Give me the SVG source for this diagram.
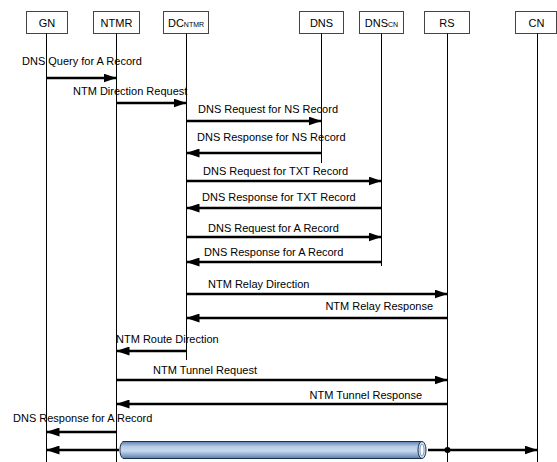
<svg xmlns="http://www.w3.org/2000/svg" width="557" height="462" viewBox="0 0 557 462">
  <style>
    text { font-family: "Liberation Sans", Arial, sans-serif; font-size: 11px; fill: #000; }
    .box { fill: #fff; stroke: #444; stroke-width: 1; }
    .life { stroke: #000; stroke-width: 1; fill: none; }
    .msg { stroke: #000; stroke-width: 2.5; fill: none; marker-end: url(#ah); }
    .lbl { text-anchor: middle; }
    .sub { font-size: 7px; }
  </style>
  <defs>
    <marker id="ah" markerUnits="userSpaceOnUse" markerWidth="13" markerHeight="9" refX="13" refY="4.5" orient="auto">
      <path d="M0,0 L13,4.5 L0,9 z" fill="#000"/>
    </marker>
    <linearGradient id="cyl" x1="0" y1="0" x2="0" y2="1">
      <stop offset="0" stop-color="#5a80b2"/>
      <stop offset="0.3" stop-color="#b8cce5"/>
      <stop offset="0.55" stop-color="#c9d9ec"/>
      <stop offset="1" stop-color="#587db0"/>
    </linearGradient>
  </defs>

  <g id="GN">
    <rect class="box" x="26.5" y="11.5" width="41" height="22"/>
    <text class="lbl" x="47" y="26.5">GN</text>
    <line class="life" x1="46.5" y1="33.5" x2="46.5" y2="462"/>
  </g>
  <g id="NTMR">
    <rect class="box" x="93.5" y="11.5" width="46" height="22"/>
    <text class="lbl" x="116.5" y="26.5">NTMR</text>
    <line class="life" x1="116.5" y1="33.5" x2="116.5" y2="462"/>
  </g>
  <g id="DC_NTMR">
    <rect class="box" x="163.5" y="11.5" width="45" height="22"/>
    <text class="lbl" x="186" y="26.5">DC<tspan class="sub">NTMR</tspan></text>
    <line class="life" x1="186.5" y1="33.5" x2="186.5" y2="360"/>
  </g>
  <g id="DNS">
    <rect class="box" x="299.5" y="11.5" width="44" height="22"/>
    <text class="lbl" x="321.5" y="26.5">DNS</text>
    <line class="life" x1="321.5" y1="33.5" x2="321.5" y2="163"/>
  </g>
  <g id="DNS_CN">
    <rect class="box" x="359.5" y="11.5" width="44" height="22"/>
    <text class="lbl" x="381.5" y="26.5">DNS<tspan class="sub">CN</tspan></text>
    <line class="life" x1="381.5" y1="33.5" x2="381.5" y2="266"/>
  </g>
  <g id="RS">
    <rect class="box" x="424.5" y="11.5" width="45" height="22"/>
    <text class="lbl" x="447" y="26.5">RS</text>
    <line class="life" x1="447.5" y1="33.5" x2="447.5" y2="462"/>
  </g>
  <g id="CN">
    <rect class="box" x="515.5" y="11.5" width="41" height="22"/>
    <text class="lbl" x="536.5" y="26.5">CN</text>
    <line class="life" x1="537.5" y1="33.5" x2="537.5" y2="462"/>
  </g>

  <g id="connectors">
    <line class="msg" x1="46.5" y1="78" x2="116.5" y2="78"/>
    <text x="22" y="65">DNS Query for A Record</text>

    <line class="msg" x1="116.5" y1="103" x2="186.5" y2="103"/>
    <text x="73" y="95">NTM Direction Request</text>

    <line class="msg" x1="186.5" y1="121" x2="321.5" y2="121"/>
    <text x="198" y="113">DNS Request for NS Record</text>

    <line class="msg" x1="321.5" y1="153" x2="186.5" y2="153"/>
    <text x="197" y="141">DNS Response for NS Record</text>

    <line class="msg" x1="186.5" y1="181" x2="381.5" y2="181"/>
    <text x="203" y="175">DNS Request for TXT Record</text>

    <line class="msg" x1="381.5" y1="208" x2="186.5" y2="208"/>
    <text x="202" y="201">DNS Response for TXT Record</text>

    <line class="msg" x1="186.5" y1="237" x2="381.5" y2="237"/>
    <text x="208" y="232">DNS Request for A Record</text>

    <line class="msg" x1="381.5" y1="262" x2="186.5" y2="262"/>
    <text x="204" y="256">DNS Response for A Record</text>

    <line class="msg" x1="186.5" y1="294" x2="447.5" y2="294"/>
    <text x="208" y="288">NTM Relay Direction</text>

    <line class="msg" x1="447.5" y1="318" x2="186.5" y2="318"/>
    <text x="433" y="310" text-anchor="end">NTM Relay Response</text>

    <line class="msg" x1="186.5" y1="351" x2="116.5" y2="351"/>
    <text x="116" y="343">NTM Route Direction</text>

    <line class="msg" x1="116.5" y1="380" x2="447.5" y2="380"/>
    <text x="153" y="374">NTM Tunnel Request</text>

    <line class="msg" x1="447.5" y1="404" x2="116.5" y2="404"/>
    <text x="422" y="399" text-anchor="end">NTM Tunnel Response</text>

    <line class="msg" x1="116.5" y1="432" x2="46.5" y2="432"/>
    <text x="13" y="422">DNS Response for A Record</text>

    <line class="msg" x1="119" y1="450" x2="46.5" y2="450"/>
    <line class="msg" x1="428" y1="450" x2="537.5" y2="450"/>
    <circle cx="447.5" cy="450" r="3" fill="#000"/>
  </g>

  <g id="tunnel">
    <path d="M422,441.5 L123,441.5 A4.5,9 0 0 0 123,458.5 L422,458.5 Z" fill="url(#cyl)" stroke="#1b3050" stroke-width="1"/>
    <ellipse cx="422" cy="450" rx="4" ry="8.5" fill="#d9e4f2" stroke="#1b3050" stroke-width="1"/>
    <ellipse cx="422" cy="450" rx="2" ry="6" fill="#fff" stroke="#5a80b2" stroke-width="0.8"/>
  </g>
</svg>
